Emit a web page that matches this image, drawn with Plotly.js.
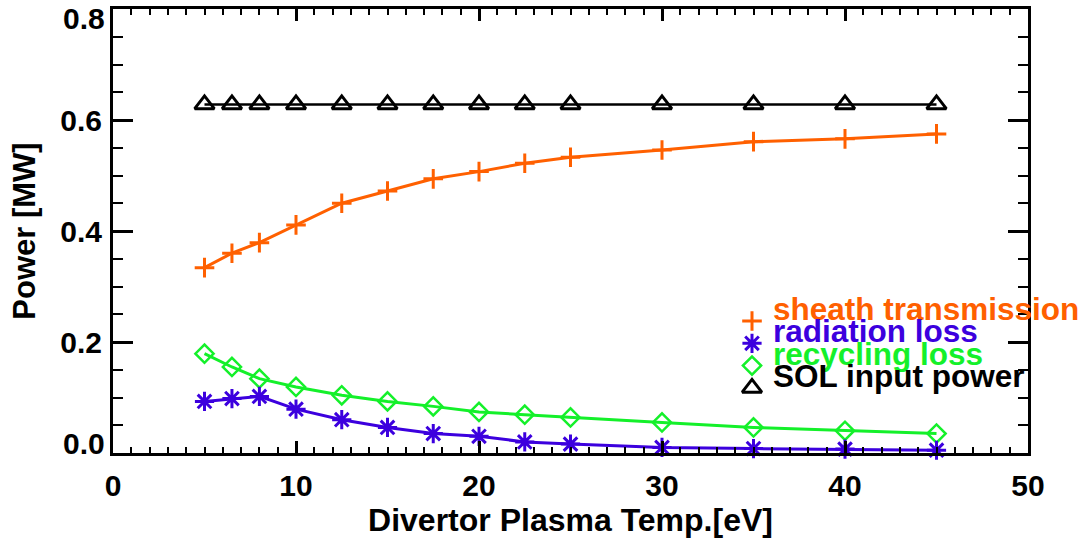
<!DOCTYPE html>
<html><head><meta charset="utf-8">
<script src="https://cdn.plot.ly/plotly-3.0.1.min.js"></script>
<style>html,body{margin:0;padding:0;background:#fff}#chart{width:1086px;height:539px}</style>
</head><body><div id="chart"></div>
<script>
// ---- data ----
const temperature = [5, 6.5, 8, 10, 12.5, 15, 17.5, 20, 22.5, 25, 30, 35, 40, 45];
const sheathTransmission = [0.334, 0.360, 0.379, 0.411, 0.450, 0.472, 0.494, 0.507, 0.522, 0.533, 0.546, 0.561, 0.566, 0.575];
const radiationLoss = [0.093, 0.098, 0.102, 0.079, 0.060, 0.046, 0.035, 0.030, 0.020, 0.016, 0.010, 0.008, 0.007, 0.005];
const recyclingLoss = [0.179, 0.155, 0.134, 0.119, 0.104, 0.093, 0.084, 0.074, 0.069, 0.064, 0.055, 0.046, 0.040, 0.035];
const solInputPower = [0.628, 0.628, 0.628, 0.628, 0.628, 0.628, 0.628, 0.628, 0.628, 0.628, 0.628, 0.628, 0.628, 0.628];
const seriesNames = ['sheath transmission', 'radiation loss', 'recycling loss', 'SOL input power'];
const xTickVals = [0, 10, 20, 30, 40, 50];
const xTickText = ['0', '10', '20', '30', '40', '50'];
const yTickVals = [0, 0.2, 0.4, 0.6, 0.8];
const yTickText = ['0.0', '0.2', '0.4', '0.6', '0.8'];

// ---- styles ----
const W = 1086, H = 539;
const M = {l: 113, r: 58, t: 9, b: 86};
const plotW = W - M.l - M.r, plotH = H - M.t - M.b;
const XR = [0, 50], YR = [0, 0.8];
const FONT = 'Liberation Sans, Arial, Helvetica, sans-serif';
const colors = ['#ff6000', '#3c00de', '#14f02a', '#000000'];
const symbols = ['cross-thin-open', 'asterisk-open', 'diamond-open', 'triangle-up-open'];
const sizes = [14, 16, 14, 17];
const mlw = [3, 3, 2.5, 3];
const llw = [3, 3, 3, 2.5];
const series = [sheathTransmission, radiationLoss, recyclingLoss, solInputPower];

const traces = [];
[3, 0, 2, 1].forEach(i => {
  traces.push({
    type: 'scatter', mode: 'lines+markers', name: seriesNames[i],
    x: temperature, y: series[i], cliponaxis: false, showlegend: false,
    line: {color: colors[i], width: llw[i]},
    marker: {symbol: symbols[i], size: sizes[i], color: colors[i], line: {color: colors[i], width: mlw[i]}}
  });
});

// ---- legend (IDL style: keys just below each text line) ----
const legKeyPx = 752, legTextPx = 771, legKeyTopPx = 321, legRowPx = 22.3, legTextLift = 12;
const px2x = px => XR[0] + (px - M.l) / plotW * (XR[1] - XR[0]);
const px2y = py => YR[0] + (H - M.b - py) / plotH * (YR[1] - YR[0]);
const annotations = [];
seriesNames.forEach((nm, i) => {
  const ky = legKeyTopPx + legRowPx * i;
  traces.push({
    type: 'scatter', mode: 'markers', xaxis: 'x2', yaxis: 'y2', showlegend: false, hoverinfo: 'skip',
    cliponaxis: false, name: nm + ' (key)',
    x: [px2x(legKeyPx)], y: [px2y(ky)],
    marker: {symbol: symbols[i], size: sizes[i], color: colors[i], line: {color: colors[i], width: mlw[i]}}
  });
  annotations.push({
    xref: 'paper', yref: 'paper', x: (legTextPx - M.l) / plotW, y: (H - M.b - (ky - legTextLift)) / plotH,
    xanchor: 'left', yanchor: 'middle', showarrow: false, text: nm,
    font: {family: FONT, size: 31.5, color: colors[i], weight: 'bold'}
  });
});

// end labels of the y axis sit just inside the axis ends, as in the reference
const tickFont = {family: FONT, size: 30, color: '#000', weight: 'bold'};
[[0, 10], [yTickVals.length - 1, -9]].forEach(([k, shift]) => {
  annotations.push({
    xref: 'paper', yref: 'y', x: 0, y: yTickVals[k], xanchor: 'right', yanchor: 'middle',
    xshift: -6, yshift: shift, showarrow: false, text: yTickText[k], font: tickFont
  });
});
const yTickTextShown = yTickText.map((t, k) => (k === 0 || k === yTickText.length - 1) ? '' : t);

const axisCommon = {
  showline: true, linewidth: 3, linecolor: '#000', mirror: true,
  ticks: 'inside', tickwidth: 3, tickcolor: '#000', showgrid: false, zeroline: false,
  tickfont: tickFont
};
const xMinor = {dtick: 1, ticks: 'inside', ticklen: 6, tickwidth: 2, tickcolor: '#000', showgrid: false};
const yMinor = {dtick: 0.05, ticks: 'inside', ticklen: 10, tickwidth: 2, tickcolor: '#000', showgrid: false};

const layout = {
  width: W, height: H, autosize: false, margin: M,
  paper_bgcolor: '#fff', plot_bgcolor: '#fff', showlegend: false,
  font: {family: FONT, size: 30, color: '#000', weight: 'bold'},
  xaxis: Object.assign({}, axisCommon, {
    range: XR, tickmode: 'array', tickvals: xTickVals, ticktext: xTickText,
    ticklen: 12, ticklabelstandoff: 4, minor: xMinor,
    title: {text: 'Divertor Plasma Temp.[eV]', font: {family: FONT, size: 32, color: '#000', weight: 'bold'}, standoff: 2}
  }),
  yaxis: Object.assign({}, axisCommon, {
    range: YR, tickmode: 'array', tickvals: yTickVals, ticktext: yTickTextShown,
    ticklen: 20, ticklabelstandoff: 2, minor: yMinor,
    title: {text: 'Power [MW]', font: {family: FONT, size: 31, color: '#000', weight: 'bold'}, standoff: 16}
  }),
  xaxis2: Object.assign({}, axisCommon, {
    overlaying: 'x', side: 'top', anchor: 'y', range: XR, tickmode: 'array', tickvals: xTickVals,
    showline: false, showticklabels: false, ticklen: 12, minor: xMinor, fixedrange: true
  }),
  yaxis2: Object.assign({}, axisCommon, {
    overlaying: 'y', side: 'right', anchor: 'x', range: YR, tickmode: 'array', tickvals: yTickVals,
    showline: false, showticklabels: false, ticklen: 20, minor: yMinor, fixedrange: true
  }),
  annotations: annotations
};

Plotly.newPlot('chart', traces, layout, {staticPlot: true, displayModeBar: false});
</script>
</body></html>
